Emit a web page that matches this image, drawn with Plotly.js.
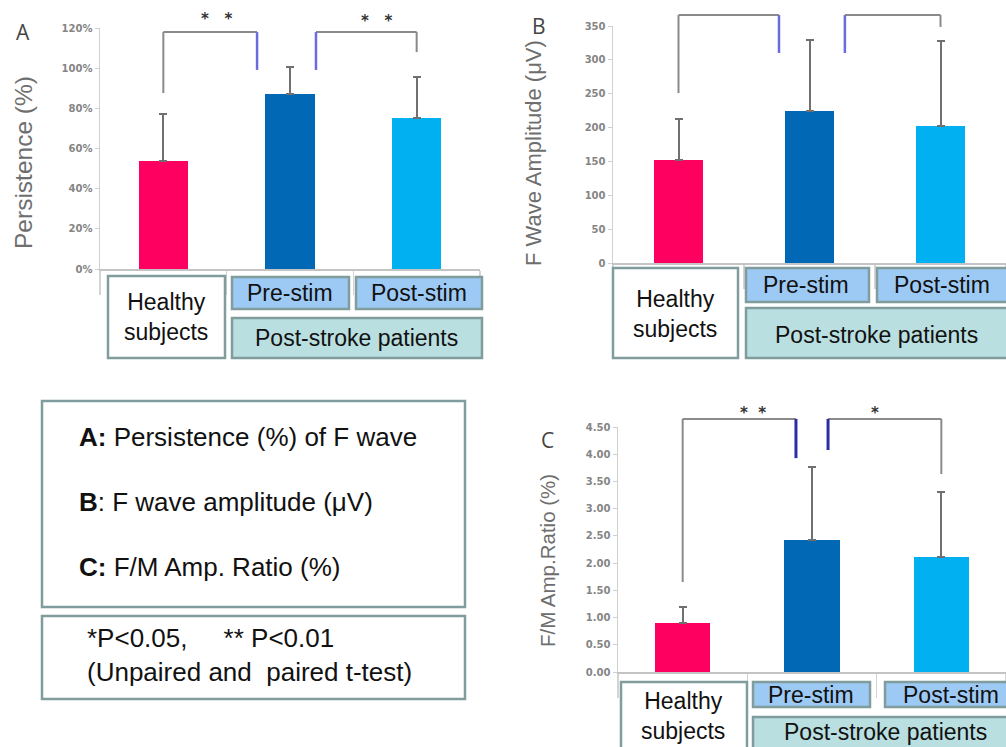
<!DOCTYPE html>
<html><head><meta charset="utf-8">
<script src="https://cdn.plot.ly/plotly-3.0.1.min.js"></script>
<style>html,body{margin:0;padding:0;background:#fff;}</style>
</head><body><div id="chart" style="width:1006px;height:747px;"></div>
<script>
// ---------------- data ----------------
const categories = ['Healthy subjects', 'Pre-stim', 'Post-stim'];
const tickLabels = ['Healthy<br>subjects', 'Pre-stim', 'Post-stim'];
const groupLabel = 'Post-stroke patients';

const persistenceMean = [54, 87, 75];
const persistenceErr  = [23, 13.5, 20.5];
const amplitudeMean   = [152, 225, 203];
const amplitudeErr    = [60, 105, 125];
const ratioMean       = [0.90, 2.42, 2.11];
const ratioErr        = [0.29, 1.35, 1.20];

const panelLetters = ['A', 'B', 'C'];
const yTitles = ['Persistence (%)', 'F Wave Amplitude (μV)', 'F/M Amp.Ratio (%)'];
const legendLines = ['<b>A:</b> Persistence (%) of F wave', '<b>B</b>: F wave amplitude (μV)', '<b>C:</b> F/M Amp. Ratio (%)'];
const noteLines = ['*P&lt;0.05,\u00a0\u00a0\u00a0\u00a0\u00a0** P&lt;0.01', '(Unpaired and\u00a0\u00a0paired t-test)'];
const sigA = ['*\u00a0\u00a0\u00a0*', '*\u00a0\u00a0\u00a0*'];
const sigC = ['*\u00a0\u00a0*', '*'];

// ---------------- style ----------------
const W = 1006, H = 747;
const P = v => v / W;          // pixel -> paper x
const Q = v => 1 - v / H;      // pixel -> paper y
const barColors = ['#fe0060', '#0068b5', '#00b0f0'];
const boxLine = '#809c9c';
const grayLine = '#8a8a8a';

function barTrace(y, err, xa, ya, width) {
  return {
    type: 'bar', x: categories, y: y, xaxis: xa, yaxis: ya, width: width,
    marker: {color: barColors, line: {width: 0}},
    error_y: {type: 'data', symmetric: false, array: err, arrayminus: err.map(() => 0),
              color: '#707070', thickness: 2, width: 4},
    showlegend: false, hoverinfo: 'x+y'
  };
}

const data = [
  barTrace(persistenceMean, persistenceErr, 'x', 'y', 0.39),
  barTrace(amplitudeMean, amplitudeErr, 'x2', 'y2', 0.38),
  barTrace(ratioMean, ratioErr, 'x3', 'y3', 0.43)
];

function xAxis(domain, anchor) {
  return {domain: domain, anchor: anchor, type: 'category', range: [-0.5, 2.5],
    showline: true, linecolor: '#c4c4c4', linewidth: 2, showticklabels: false,
    ticks: 'outside', tickson: 'boundaries', ticklen: 24, tickcolor: '#d4d4d4', tickwidth: 1.5,
    showgrid: false, zeroline: false, fixedrange: true};
}
function yAxis(domain, anchor, range, dtick, fmt, suffix) {
  return {domain: domain, anchor: anchor, range: range, dtick: dtick, tickformat: fmt, ticksuffix: suffix,
    showline: true, linecolor: '#d0d0d0', linewidth: 1.5, ticks: 'outside', ticklen: 4, tickcolor: '#d0d0d0',
    showgrid: false, zeroline: false, fixedrange: true,
    tickfont: {family: 'DejaVu Sans', size: 10, color: '#858585', weight: 'bold'}};
}

const shapes = [];
const annotations = [];

function line(xref, yref, x0, y0, x1, y1, color, w) {
  shapes.push({type: 'line', xref: xref, yref: yref, x0: x0, y0: y0, x1: x1, y1: y1,
               line: {color: color, width: w}});
}
function bracket(xa, ya, x0, x1, top, yl, yr, cl, cr, blueW) {
  const yd = ya + ' domain';
  line(xa, yd, x0, top, x1, top, grayLine, 2);
  line(xa, yd, x0, top, x0, yl, cl, cl === grayLine ? 2 : blueW);
  line(xa, yd, x1, top, x1, yr, cr, cr === grayLine ? 2 : blueW);
}
const blueA = '#6b6be0', blueC = '#2c2ca8';
bracket('x', 'y', 0, 0.74, 0.983, 0.73, 0.826, grayLine, blueA, 2.5);
bracket('x', 'y', 1.205, 2, 0.983, 0.826, 0.90, blueA, grayLine, 2.5);
bracket('x2', 'y2', 0, 0.767, 1.046, 0.717, 0.886, grayLine, blueA, 2.5);
bracket('x2', 'y2', 1.27, 2, 1.046, 0.886, 0.996, blueA, grayLine, 2.5);
bracket('x3', 'y3', 0, 0.876, 1.033, 0.367, 0.873, grayLine, blueC, 3);
bracket('x3', 'y3', 1.124, 2, 1.033, 0.906, 0.808, blueC, grayLine, 3);

function star(xa, ya, x, y, txt) {
  annotations.push({xref: xa, yref: ya + ' domain', x: x, y: y, text: txt, showarrow: false,
    xanchor: 'center', yanchor: 'middle', font: {family: 'DejaVu Sans', size: 15, color: '#333', weight: 'bold'}});
}
star('x', 'y', 0.424, 1.037, sigA[0]);
star('x', 'y', 1.687, 1.03, sigA[1]);
star('x3', 'y3', 0.544, 1.057, sigC[0]);
star('x3', 'y3', 1.487, 1.057, sigC[1]);

// category label boxes (paper pixels)
function box(x0, y0, x1, y1, fill) {
  shapes.push({type: 'rect', xref: 'paper', yref: 'paper', x0: P(x0), x1: P(x1), y0: Q(y1), y1: Q(y0),
    line: {color: boxLine, width: 2.5}, fillcolor: fill, layer: 'above'});
}
function label(x, y, txt, size, anchor, opts) {
  annotations.push(Object.assign({xref: 'paper', yref: 'paper', x: P(x), y: Q(y), text: txt, showarrow: false,
    xanchor: anchor || 'center', yanchor: 'middle', align: 'left',
    font: {family: 'Liberation Sans, Arial', size: size, color: '#111'}}, opts || {}));
}
const preFill = '#9dcaf5', strokeFill = '#b9dfe0';
const catBoxes = [
  {h: [108, 276, 225, 358], pre: [232, 277, 349, 309], post: [356, 277, 482, 309], st: [232, 318, 482, 358],
   lh: [166, 317], lpre: [290, 293], lpost: [419, 293], lst: [356, 338]},
  {h: [613, 268, 738, 358], pre: [746, 268, 869, 302], post: [877, 268, 1012, 302], st: [746, 308, 1012, 358],
   lh: [675, 314], lpre: [806, 285], lpost: [942, 285], lst: [876, 335]},
  {h: [621, 682, 747, 752], pre: [753, 682, 870, 707], post: [885, 682, 1012, 707], st: [753, 717, 1012, 752],
   lh: [683, 716], lpre: [811, 695], lpost: [951, 695], lst: [885, 732]}
];
catBoxes.forEach(b => {
  box(...b.h, '#ffffff');
  box(...b.pre, preFill);
  box(...b.post, preFill);
  box(...b.st, strokeFill);
  label(b.lh[0], b.lh[1], tickLabels[0], 23, 'center', {align: 'center'});
  label(b.lpre[0], b.lpre[1], tickLabels[1], 23);
  label(b.lpost[0], b.lpost[1], tickLabels[2], 23);
  label(b.lst[0], b.lst[1], groupLabel, 23);
});

// y-axis titles
[[23, 163, 24.5], [533, 153, 22], [547, 561, 20.5]].forEach((p, i) => {
  annotations.push({xref: 'paper', yref: 'paper', x: P(p[0]), y: Q(p[1]), text: yTitles[i], showarrow: false,
    textangle: -90, xanchor: 'center', yanchor: 'middle',
    font: {family: 'Liberation Sans, Arial', size: p[2], color: '#6e6e6e'}});
});

// panel letters
[[23, 32], [539, 26], [547, 440]].forEach((p, i) => {
  annotations.push({xref: 'paper', yref: 'paper', x: P(p[0]), y: Q(p[1]), text: panelLetters[i], showarrow: false,
    xanchor: 'center', yanchor: 'middle', font: {family: 'Open Sans', size: 21, color: '#444'}});
});

// legend boxes
box(42, 401, 465, 607, 'rgba(0,0,0,0)');
box(42, 616, 465, 699, 'rgba(0,0,0,0)');
label(77, 437, legendLines[0], 26, 'left');
label(77, 502, legendLines[1], 26, 'left');
label(77, 567, legendLines[2], 26, 'left');
label(85, 638, noteLines[0], 26, 'left');
label(85, 672, noteLines[1], 26, 'left');

const layout = {
  width: W, height: H, margin: {l: 0, r: 0, t: 0, b: 0},
  paper_bgcolor: '#fff', plot_bgcolor: 'rgba(0,0,0,0)', showlegend: false, bargap: 0,
  xaxis: xAxis([P(100), P(480)], 'y'),
  yaxis: yAxis([Q(269), Q(28)], 'x', [0, 120], 20, null, '%'),
  xaxis2: xAxis([P(613), 1], 'y2'),
  yaxis2: yAxis([Q(263), Q(26)], 'x2', [0, 350], 50, null, ''),
  xaxis3: xAxis([P(618), 1], 'y3'),
  yaxis3: yAxis([Q(672), Q(427)], 'x3', [0, 4.5], 0.5, '.2f', ''),
  shapes: shapes, annotations: annotations
};

Plotly.newPlot('chart', data, layout, {displayModeBar: false, staticPlot: true});
</script></body></html>
